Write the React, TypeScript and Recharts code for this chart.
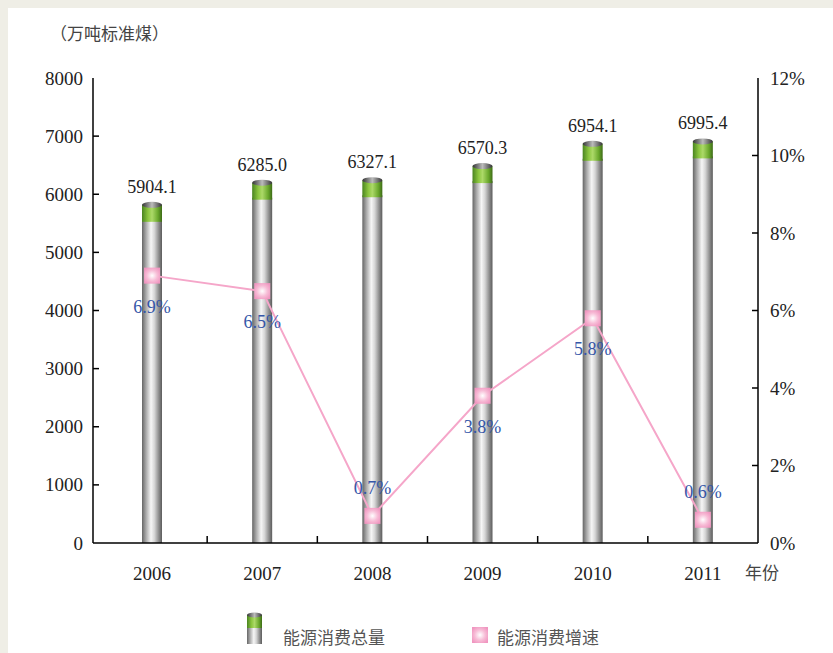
// Energy consumption total (bars) and growth rate (line), 2006-2011.
import { ComposedChart, Bar, Line, XAxis, YAxis, LabelList } from "recharts";

const years = ["2006", "2007", "2008", "2009", "2010", "2011"];
const totals = [5904.1, 6285.0, 6327.1, 6570.3, 6954.1, 6995.4];
const growth = [6.9, 6.5, 0.7, 3.8, 5.8, 0.6];
const leftTicks = [0, 1000, 2000, 3000, 4000, 5000, 6000, 7000, 8000];
const rightTicks = [0, 2, 4, 6, 8, 10, 12];

const SERIF = "'Liberation Serif', 'DejaVu Serif', serif";
const CJK = "'Noto Sans CJK SC', sans-serif";
const X_PAD = 4;
const HALF_BAND = (758 - 93 - X_PAD) / 6 / 2;

const data = years.map((year, i) => ({ year, total: totals[i], growth: growth[i] }));

function Gradients() {
  return (
    <svg width={0} height={0} style={{ position: "absolute" }}>
      <defs>
        <linearGradient id="cylBody" x1="0" y1="0" x2="1" y2="0">
          <stop offset="0" stopColor="#666" />
          <stop offset="0.2" stopColor="#a9a9a9" />
          <stop offset="0.45" stopColor="#f6f6f6" />
          <stop offset="0.62" stopColor="#d6d6d6" />
          <stop offset="0.85" stopColor="#8a8a8a" />
          <stop offset="1" stopColor="#5c5c5c" />
        </linearGradient>
        <linearGradient id="cylCap" x1="0" y1="0" x2="1" y2="0">
          <stop offset="0" stopColor="#4a8420" />
          <stop offset="0.3" stopColor="#8cc63f" />
          <stop offset="0.5" stopColor="#acd968" />
          <stop offset="0.8" stopColor="#6aa82c" />
          <stop offset="1" stopColor="#3d6b16" />
        </linearGradient>
        <linearGradient id="cylTop" x1="0" y1="0" x2="1" y2="0">
          <stop offset="0" stopColor="#333" />
          <stop offset="0.5" stopColor="#bbb" />
          <stop offset="1" stopColor="#333" />
        </linearGradient>
        <radialGradient id="pinkSq" cx="0.5" cy="0.5" r="0.6">
          <stop offset="0" stopColor="#ffffff" />
          <stop offset="0.55" stopColor="#f7bcd6" />
          <stop offset="1" stopColor="#f096c0" />
        </radialGradient>
      </defs>
    </svg>
  );
}

function Cylinder(props: any) {
  const { x, y, width, height } = props;
  if (!height || height <= 0) return null;
  const cap = 17;
  const top = y + 3;
  return (
    <g>
      <rect x={x} y={top + cap} width={width} height={height - cap - 3} fill="url(#cylBody)" />
      <rect x={x} y={top + 2} width={width} height={cap} fill="url(#cylCap)" />
      <ellipse cx={x + width / 2} cy={top + 2} rx={width / 2} ry={3} fill="url(#cylTop)" />
    </g>
  );
}

function PinkDot(props: any) {
  const { cx, cy } = props;
  if (cx == null || cy == null) return null;
  return <rect x={cx - 8} y={cy - 8} width={16} height={16} fill="url(#pinkSq)" />;
}

function GrowthLabel(props: any) {
  const { x, y, value } = props;
  const dy = value >= 2 ? 31 : -28;
  return (
    <text x={x} y={y + dy} textAnchor="middle" dominantBaseline="central" fill="#3556a8" fontSize={18} fontFamily={SERIF}>
      {value.toFixed(1)}%
    </text>
  );
}

function TotalLabel(props: any) {
  const { x, y, width, value } = props;
  return (
    <text x={x + width / 2} y={y - 7} textAnchor="middle" fill="#222" fontSize={18} fontFamily={SERIF}>
      {value.toFixed(1)}
    </text>
  );
}

function LeftTick(props: any) {
  const { x, y, payload } = props;
  return (
    <g>
      {payload.value > 0 && payload.value < 8000 && <line x1={x + 10} x2={x + 16} y1={y} y2={y} stroke="#000" strokeWidth={1.5} />}
      <text x={x} y={y} textAnchor="end" dominantBaseline="central" fill="#222" fontSize={19} fontFamily={SERIF}>
        {payload.value}
      </text>
    </g>
  );
}

function RightTick(props: any) {
  const { x, y, payload } = props;
  return (
    <g>
      {payload.value > 0 && payload.value < 12 && <line x1={x - 12} x2={x - 18} y1={y} y2={y} stroke="#000" strokeWidth={1.5} />}
      <text x={x} y={y} textAnchor="start" dominantBaseline="central" fill="#222" fontSize={19} fontFamily={SERIF}>
        {payload.value}%
      </text>
    </g>
  );
}

function BottomTick(props: any) {
  const { x, y, payload, index } = props;
  const axisY = y - 30;
  return (
    <g>
      {index > 0 && <line x1={x - HALF_BAND} x2={x - HALF_BAND} y1={axisY} y2={axisY - 7} stroke="#000" strokeWidth={1.5} />}
      <text x={x} y={y} textAnchor="middle" dominantBaseline="central" fill="#222" fontSize={19} fontFamily={SERIF}>
        {payload.value}
      </text>
    </g>
  );
}

export default function App() {
  return (
    <div style={{ position: "fixed", left: 0, top: 0, width: 833, height: 653, background: "#efeee6", overflow: "hidden" }}>
      <Gradients />
      <div style={{ position: "absolute", left: 8, top: 8, right: 0, bottom: 0, background: "#fff" }} />
      <div style={{ position: "absolute", left: 0, top: 0 }}>
        <ComposedChart width={833} height={653} data={data} margin={{ top: 78, right: 0, bottom: 0, left: 0 }}>
          <XAxis xAxisId="top" dataKey="year" orientation="top" height={0} tick={false} tickLine={false} axisLine={{ stroke: "#000", strokeWidth: 1.5 }} />
          <XAxis dataKey="year" height={110} padding={{ left: X_PAD, right: 0 }} tickLine={false} tickSize={0} tickMargin={30} tick={<BottomTick />} axisLine={{ stroke: "#000", strokeWidth: 1.5 }} />
          <YAxis yAxisId="left" width={93} domain={[0, 8000]} ticks={leftTicks} interval={0} tickLine={false} tickSize={0} tickMargin={10} tick={<LeftTick />} axisLine={{ stroke: "#000", strokeWidth: 1.5 }} />
          <YAxis yAxisId="right" orientation="right" width={75} domain={[0, 12]} ticks={rightTicks} interval={0} tickLine={false} tickSize={0} tickMargin={12} tick={<RightTick />} axisLine={{ stroke: "#000", strokeWidth: 1.5 }} />
          <Bar yAxisId="left" dataKey="total" barSize={20} shape={<Cylinder />} isAnimationActive={false}>
            <LabelList dataKey="total" content={<TotalLabel />} />
          </Bar>
          <Line yAxisId="right" dataKey="growth" stroke="#f5a6c9" strokeWidth={2} dot={<PinkDot />} activeDot={false} isAnimationActive={false}>
            <LabelList dataKey="growth" content={<GrowthLabel />} />
          </Line>
        </ComposedChart>
      </div>
      <div style={{ position: "absolute", left: 50, top: 21, fontFamily: CJK, fontSize: 17, color: "#444", lineHeight: "24px" }}>（万吨标准煤）</div>
      <div style={{ position: "absolute", left: 745, top: 560, fontFamily: CJK, fontSize: 17, color: "#444", lineHeight: "24px" }}>年份</div>
      <svg style={{ position: "absolute", left: 247, top: 612 }} width={16} height={33}>
        <rect x={0} y={14} width={15} height={18} fill="url(#cylBody)" />
        <rect x={0} y={3} width={15} height={13} fill="url(#cylCap)" />
        <ellipse cx={7.5} cy={3} rx={7.5} ry={2.5} fill="url(#cylTop)" />
      </svg>
      <div style={{ position: "absolute", left: 283, top: 624, fontFamily: CJK, fontSize: 17, color: "#555", lineHeight: "26px" }}>能源消费总量</div>
      <svg style={{ position: "absolute", left: 472, top: 627 }} width={16} height={16}>
        <rect x={0} y={0} width={16} height={16} fill="url(#pinkSq)" />
      </svg>
      <div style={{ position: "absolute", left: 497, top: 624, fontFamily: CJK, fontSize: 17, color: "#555", lineHeight: "26px" }}>能源消费增速</div>
    </div>
  );
}
